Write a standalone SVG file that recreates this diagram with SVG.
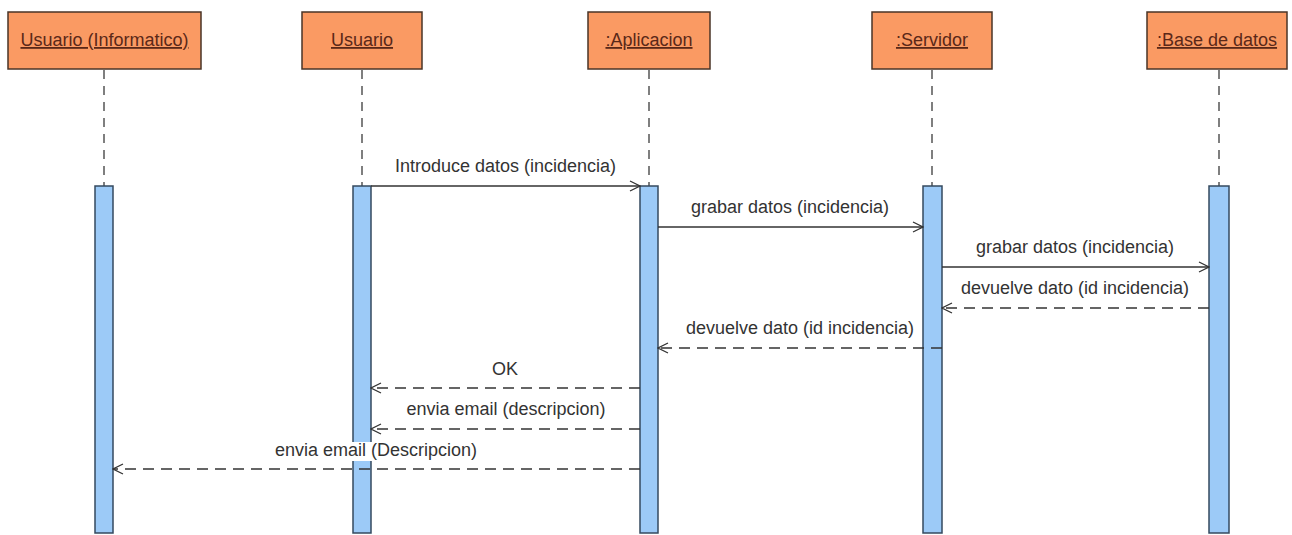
<svg xmlns="http://www.w3.org/2000/svg" width="1292" height="535" viewBox="0 0 1292 535">
  <defs>
    <style>
      .head { fill: #fa9a63; stroke: #4a3427; stroke-width: 1.5; }
      .headtxt { font-family: "Liberation Sans", Arial, sans-serif; font-size: 18px; fill: #5a2818; text-anchor: middle; text-decoration: underline; }
      .life { stroke: #555; stroke-width: 1.5; stroke-dasharray: 9 7; fill: none; }
      .bar { fill: #9ccaf7; stroke: #34495f; stroke-width: 1.5; }
      .msg { stroke: #333; stroke-width: 1.3; fill: none; }
      .ret { stroke: #333; stroke-width: 1.3; fill: none; stroke-dasharray: 11 7; }
      .lbl { font-family: "Liberation Sans", Arial, sans-serif; font-size: 18px; fill: #333; text-anchor: middle; }
      .lblbg { fill: #fff; }
    </style>
    <marker id="open" viewBox="0 0 12 12" refX="11" refY="6" markerWidth="12" markerHeight="12" markerUnits="userSpaceOnUse" orient="auto">
      <path d="M1,1 L11,6 L1,11" fill="none" stroke="#333" stroke-width="1.3"/>
    </marker>
  </defs>

  <rect width="1292" height="535" fill="#fff"/>

  <!-- lifelines -->
  <g id="lifeline-informatico">
    <rect class="head" x="8" y="12" width="193" height="57"/>
    <text class="headtxt" x="104.5" y="46">Usuario (Informatico)</text>
    <line class="life" x1="104" y1="70" x2="104" y2="186"/>
    <rect class="bar" x="95" y="186" width="18" height="347"/>
  </g>
  <g id="lifeline-usuario">
    <rect class="head" x="302" y="12" width="120" height="57"/>
    <text class="headtxt" x="362" y="46">Usuario</text>
    <line class="life" x1="362" y1="70" x2="362" y2="186"/>
    <rect class="bar" x="353" y="186" width="18" height="347"/>
  </g>
  <g id="lifeline-aplicacion">
    <rect class="head" x="588" y="12" width="122" height="57"/>
    <text class="headtxt" x="649" y="46">:Aplicacion</text>
    <line class="life" x1="649" y1="70" x2="649" y2="186"/>
    <rect class="bar" x="640" y="186" width="18" height="347"/>
  </g>
  <g id="lifeline-servidor">
    <rect class="head" x="872" y="12" width="120" height="57"/>
    <text class="headtxt" x="932" y="46">:Servidor</text>
    <line class="life" x1="932" y1="70" x2="932" y2="186"/>
    <rect class="bar" x="923" y="186" width="19" height="347"/>
  </g>
  <g id="lifeline-basedatos">
    <rect class="head" x="1147" y="12" width="140" height="57"/>
    <text class="headtxt" x="1217" y="46">:Base de datos</text>
    <line class="life" x1="1219" y1="70" x2="1219" y2="186"/>
    <rect class="bar" x="1209" y="186" width="20" height="347"/>
  </g>

  <!-- messages -->
  <g id="connectors">
    <line class="msg" x1="371" y1="186" x2="640" y2="186" marker-end="url(#open)"/>
    <text class="lbl" x="505.5" y="172">Introduce datos (incidencia)</text>

    <line class="msg" x1="658" y1="227" x2="923" y2="227" marker-end="url(#open)"/>
    <text class="lbl" x="790" y="213">grabar datos (incidencia)</text>

    <line class="msg" x1="942" y1="267" x2="1209" y2="267" marker-end="url(#open)"/>
    <text class="lbl" x="1075" y="253">grabar datos (incidencia)</text>

    <line class="ret" x1="1209" y1="308" x2="942" y2="308" marker-end="url(#open)"/>
    <text class="lbl" x="1075" y="294">devuelve dato (id incidencia)</text>

    <line class="ret" x1="942" y1="348" x2="658" y2="348" marker-end="url(#open)"/>
    <text class="lbl" x="800" y="334">devuelve dato (id incidencia)</text>

    <line class="ret" x1="640" y1="388" x2="371" y2="388" marker-end="url(#open)"/>
    <text class="lbl" x="505" y="375">OK</text>

    <line class="ret" x1="640" y1="429" x2="371" y2="429" marker-end="url(#open)"/>
    <text class="lbl" x="506" y="415">envia email (descripcion)</text>

    <rect class="lblbg" x="352" y="442" width="21" height="19"/>
    <line class="ret" x1="640" y1="469" x2="113" y2="469" marker-end="url(#open)"/>
    <text class="lbl" x="376" y="456">envia email (Descripcion)</text>
  </g>
</svg>
